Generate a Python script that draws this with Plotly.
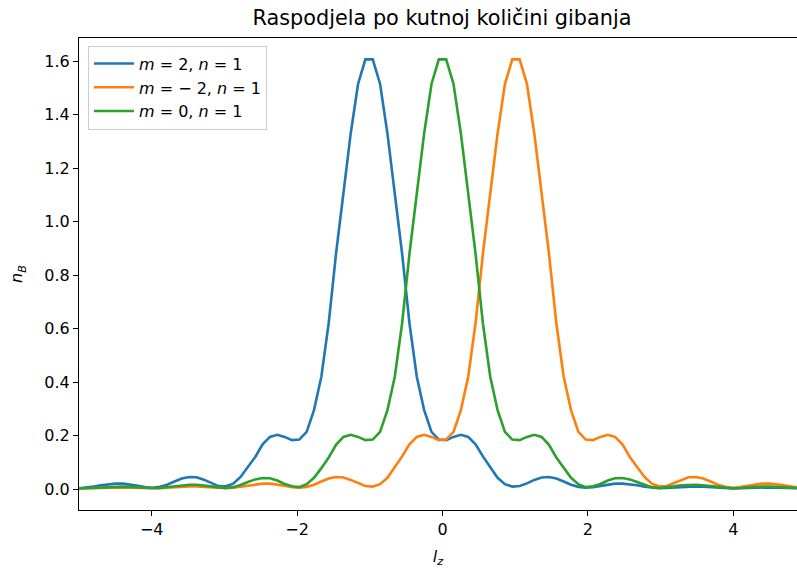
import numpy as np
import plotly.graph_objects as go

# sample grid of l_z (100 points across [-5, 5])
lz = np.linspace(-5, 5, 100)

n_m2 = [
    0.003, 0.005, 0.009, 0.014, 0.018, 0.020, 0.020, 0.017, 0.012, 0.007,
    0.005, 0.008, 0.016, 0.028, 0.039, 0.045, 0.044, 0.035, 0.022, 0.011,
    0.010, 0.020, 0.045, 0.082, 0.120, 0.167, 0.195, 0.203, 0.195, 0.183,
    0.185, 0.214, 0.295, 0.420, 0.620, 0.880, 1.100, 1.330, 1.515, 1.607,
    1.607, 1.515, 1.330, 1.100, 0.880, 0.620, 0.420, 0.295, 0.214, 0.185,
    0.183, 0.195, 0.203, 0.195, 0.167, 0.122, 0.080, 0.042, 0.018, 0.009,
    0.011, 0.021, 0.034, 0.043, 0.045, 0.039, 0.028, 0.016, 0.008, 0.005,
    0.007, 0.012, 0.017, 0.020, 0.020, 0.018, 0.014, 0.009, 0.005, 0.003,
    0.004, 0.006, 0.008, 0.010, 0.010, 0.009, 0.007, 0.005, 0.003, 0.002,
    0.003, 0.004, 0.005, 0.006, 0.006, 0.005, 0.004, 0.003, 0.002, 0.002,
]

n_mm2 = [
    0.002, 0.002, 0.003, 0.004, 0.005, 0.006, 0.006, 0.005, 0.004, 0.003,
    0.002, 0.003, 0.005, 0.007, 0.009, 0.010, 0.010, 0.008, 0.006, 0.004,
    0.003, 0.005, 0.009, 0.014, 0.018, 0.020, 0.020, 0.017, 0.012, 0.007,
    0.005, 0.008, 0.016, 0.028, 0.039, 0.045, 0.043, 0.034, 0.021, 0.011,
    0.009, 0.018, 0.042, 0.080, 0.122, 0.167, 0.195, 0.203, 0.195, 0.183,
    0.185, 0.214, 0.295, 0.420, 0.620, 0.880, 1.100, 1.330, 1.515, 1.607,
    1.607, 1.515, 1.330, 1.100, 0.880, 0.620, 0.420, 0.295, 0.214, 0.185,
    0.183, 0.195, 0.203, 0.195, 0.167, 0.120, 0.082, 0.045, 0.020, 0.010,
    0.011, 0.022, 0.035, 0.044, 0.045, 0.039, 0.028, 0.016, 0.008, 0.005,
    0.007, 0.012, 0.017, 0.020, 0.020, 0.018, 0.014, 0.009, 0.005, 0.003,
]

n_m0 = [
    0.002, 0.003, 0.004, 0.006, 0.008, 0.009, 0.009, 0.008, 0.006, 0.004,
    0.003, 0.004, 0.007, 0.011, 0.014, 0.016, 0.016, 0.014, 0.010, 0.006,
    0.004, 0.007, 0.015, 0.026, 0.036, 0.041, 0.040, 0.032, 0.019, 0.010,
    0.007, 0.018, 0.042, 0.078, 0.118, 0.165, 0.195, 0.203, 0.195, 0.183,
    0.185, 0.214, 0.295, 0.420, 0.620, 0.880, 1.100, 1.330, 1.515, 1.607,
    1.607, 1.515, 1.330, 1.100, 0.880, 0.620, 0.420, 0.295, 0.214, 0.185,
    0.183, 0.195, 0.203, 0.195, 0.165, 0.118, 0.078, 0.042, 0.018, 0.007,
    0.010, 0.019, 0.032, 0.040, 0.041, 0.036, 0.026, 0.015, 0.007, 0.004,
    0.006, 0.010, 0.014, 0.016, 0.016, 0.014, 0.011, 0.007, 0.004, 0.003,
    0.004, 0.006, 0.008, 0.009, 0.009, 0.008, 0.006, 0.004, 0.003, 0.002,
]

series_names = [
    "<i>m</i> = 2, <i>n</i> = 1",
    "<i>m</i> = − 2, <i>n</i> = 1",
    "<i>m</i> = 0, <i>n</i> = 1",
]
series_colors = ["#1f77b4", "#ff7f0e", "#2ca02c"]

x_tickvals = [-4, -2, 0, 2, 4]
x_ticktext = ["−4", "−2", "0", "2", "4"]
y_tickvals = [0.0, 0.2, 0.4, 0.6, 0.8, 1.0, 1.2, 1.4, 1.6]
y_ticktext = ["0.0", "0.2", "0.4", "0.6", "0.8", "1.0", "1.2", "1.4", "1.6"]

FONT = "DejaVu Sans"
W, H = 797, 572

fig = go.Figure()
for ys, name, col in zip([n_m2, n_mm2, n_m0], series_names, series_colors):
    fig.add_trace(go.Scatter(x=lz, y=ys, mode="lines", name=name,
                             line=dict(color=col, width=2.6)))

fig.update_layout(
    width=W, height=H,
    margin=dict(l=79, r=0, t=37.5, b=62, autoexpand=False),
    paper_bgcolor="white", plot_bgcolor="white",
    font=dict(family=FONT, size=16, color="black"),
    title=dict(text="Raspodjela po kutnoj količini gibanja",
               x=442 / W, xanchor="center", y=1 - 18 / H, yanchor="middle",
               font=dict(size=20.8, family=FONT, color="black")),
    showlegend=True,
    legend=dict(x=0.0125, y=0.984, xanchor="left", yanchor="top",
                bgcolor="rgba(255,255,255,0.8)", bordercolor="#cccccc",
                borderwidth=1, font=dict(size=16, family=FONT),
                tracegroupgap=0, itemwidth=40),
)

fig.update_xaxes(
    range=[-5, 4.876], showgrid=False, zeroline=False, automargin=False,
    showline=True, linecolor="black", linewidth=1.2, mirror=True,
    ticks="outside", ticklen=5, tickwidth=1.2, tickcolor="black",
    tickvals=x_tickvals, ticktext=x_ticktext,
    title=dict(text="<i>l<sub>z</sub></i>", font=dict(size=16), standoff=12),
)
fig.update_yaxes(
    range=[-0.0785, 1.687], showgrid=False, zeroline=False, automargin=False,
    showline=True, linecolor="black", linewidth=1.2, mirror=False,
    ticks="outside", ticklen=5, tickwidth=1.2, tickcolor="black",
    tickvals=y_tickvals, ticktext=y_ticktext,
    title=dict(text="<i>n<sub>B</sub></i>", font=dict(size=16), standoff=17),
)

fig.write_html(
    "out.html",
    config={"displayModeBar": False},
    post_script="document.body.style.margin='0';document.body.style.overflow='hidden';",
)
